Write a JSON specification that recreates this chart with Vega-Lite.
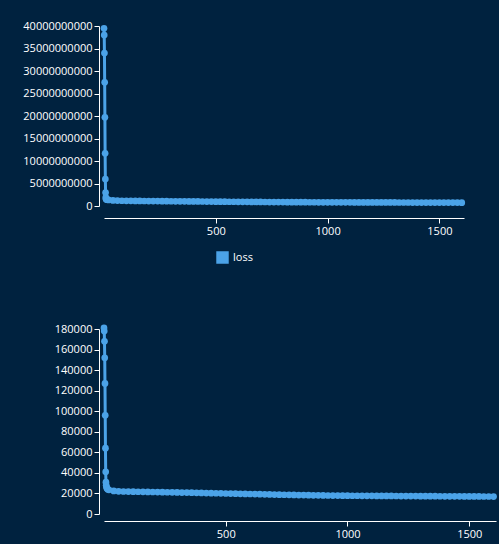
{
  "$schema": "https://vega.github.io/schema/vega-lite/v6.json",
  "background": "#00223f",
  "padding": {"left": 22, "top": 20, "right": 20, "bottom": 5},
  "datasets": {
    "history": [
      {"epoch": 0, "loss": 39500000000, "mae": 181000},
      {"epoch": 1, "loss": 38000000000, "mae": 178000},
      {"epoch": 2, "loss": 34000000000, "mae": 168000},
      {"epoch": 3, "loss": 27500000000, "mae": 152000},
      {"epoch": 4, "loss": 19700000000, "mae": 127000},
      {"epoch": 5, "loss": 11700000000, "mae": 96000},
      {"epoch": 6, "loss": 6000000000, "mae": 64000},
      {"epoch": 7, "loss": 3000000000, "mae": 41000},
      {"epoch": 8, "loss": 1900000000, "mae": 31000},
      {"epoch": 9, "loss": 1600000000, "mae": 28000},
      {"epoch": 10, "loss": 1500000000, "mae": 26500},
      {"epoch": 12, "loss": 1450000000, "mae": 25000},
      {"epoch": 15, "loss": 1400000000, "mae": 24000},
      {"epoch": 20, "loss": 1350000000, "mae": 23500},
      {"epoch": 40, "loss": 1250000000, "mae": 22500},
      {"epoch": 60, "loss": 1200000000, "mae": 22100},
      {"epoch": 80, "loss": 1170000000, "mae": 21900},
      {"epoch": 100, "loss": 1150000000, "mae": 21800},
      {"epoch": 120, "loss": 1140000000, "mae": 21700},
      {"epoch": 140, "loss": 1130000000, "mae": 21650},
      {"epoch": 160, "loss": 1120000000, "mae": 21550},
      {"epoch": 180, "loss": 1115000000, "mae": 21500},
      {"epoch": 200, "loss": 1105000000, "mae": 21400},
      {"epoch": 220, "loss": 1095000000, "mae": 21300},
      {"epoch": 240, "loss": 1090000000, "mae": 21250},
      {"epoch": 260, "loss": 1080000000, "mae": 21150},
      {"epoch": 280, "loss": 1070000000, "mae": 21050},
      {"epoch": 300, "loss": 1060000000, "mae": 20950},
      {"epoch": 320, "loss": 1050000000, "mae": 20850},
      {"epoch": 340, "loss": 1045000000, "mae": 20800},
      {"epoch": 360, "loss": 1035000000, "mae": 20700},
      {"epoch": 380, "loss": 1025000000, "mae": 20600},
      {"epoch": 400, "loss": 1015000000, "mae": 20500},
      {"epoch": 420, "loss": 1005000000, "mae": 20400},
      {"epoch": 440, "loss": 1000000000, "mae": 20300},
      {"epoch": 460, "loss": 990000000, "mae": 20200},
      {"epoch": 480, "loss": 980000000, "mae": 20100},
      {"epoch": 500, "loss": 970000000, "mae": 19950},
      {"epoch": 520, "loss": 962000000, "mae": 19850},
      {"epoch": 540, "loss": 955000000, "mae": 19750},
      {"epoch": 560, "loss": 948000000, "mae": 19650},
      {"epoch": 580, "loss": 940000000, "mae": 19550},
      {"epoch": 600, "loss": 932000000, "mae": 19450},
      {"epoch": 620, "loss": 925000000, "mae": 19350},
      {"epoch": 640, "loss": 918000000, "mae": 19250},
      {"epoch": 660, "loss": 910000000, "mae": 19150},
      {"epoch": 680, "loss": 903000000, "mae": 19050},
      {"epoch": 700, "loss": 896000000, "mae": 18950},
      {"epoch": 720, "loss": 890000000, "mae": 18850},
      {"epoch": 740, "loss": 884000000, "mae": 18750},
      {"epoch": 760, "loss": 878000000, "mae": 18650},
      {"epoch": 780, "loss": 872000000, "mae": 18550},
      {"epoch": 800, "loss": 866000000, "mae": 18450},
      {"epoch": 820, "loss": 860000000, "mae": 18380},
      {"epoch": 840, "loss": 855000000, "mae": 18300},
      {"epoch": 860, "loss": 850000000, "mae": 18220},
      {"epoch": 880, "loss": 845000000, "mae": 18150},
      {"epoch": 900, "loss": 840000000, "mae": 18080},
      {"epoch": 920, "loss": 835000000, "mae": 18000},
      {"epoch": 940, "loss": 830000000, "mae": 17950},
      {"epoch": 960, "loss": 826000000, "mae": 17900},
      {"epoch": 980, "loss": 822000000, "mae": 17850},
      {"epoch": 1000, "loss": 818000000, "mae": 17800},
      {"epoch": 1020, "loss": 815000000, "mae": 17770},
      {"epoch": 1040, "loss": 813000000, "mae": 17740},
      {"epoch": 1060, "loss": 811000000, "mae": 17710},
      {"epoch": 1080, "loss": 808000000, "mae": 17690},
      {"epoch": 1100, "loss": 806000000, "mae": 17660},
      {"epoch": 1120, "loss": 804000000, "mae": 17630},
      {"epoch": 1140, "loss": 801000000, "mae": 17600},
      {"epoch": 1160, "loss": 799000000, "mae": 17580},
      {"epoch": 1180, "loss": 797000000, "mae": 17550},
      {"epoch": 1200, "loss": 794000000, "mae": 17520},
      {"epoch": 1220, "loss": 792000000, "mae": 17490},
      {"epoch": 1240, "loss": 790000000, "mae": 17460},
      {"epoch": 1260, "loss": 787000000, "mae": 17440},
      {"epoch": 1280, "loss": 785000000, "mae": 17410},
      {"epoch": 1300, "loss": 783000000, "mae": 17380},
      {"epoch": 1320, "loss": 780000000, "mae": 17350},
      {"epoch": 1340, "loss": 778000000, "mae": 17330},
      {"epoch": 1360, "loss": 776000000, "mae": 17300},
      {"epoch": 1380, "loss": 773000000, "mae": 17270},
      {"epoch": 1400, "loss": 771000000, "mae": 17240},
      {"epoch": 1420, "loss": 769000000, "mae": 17220},
      {"epoch": 1440, "loss": 766000000, "mae": 17190},
      {"epoch": 1460, "loss": 764000000, "mae": 17160},
      {"epoch": 1480, "loss": 762000000, "mae": 17130},
      {"epoch": 1500, "loss": 759000000, "mae": 17110},
      {"epoch": 1520, "loss": 757000000, "mae": 17080},
      {"epoch": 1540, "loss": 755000000, "mae": 17050},
      {"epoch": 1560, "loss": 753000000, "mae": 17030},
      {"epoch": 1580, "loss": 751000000, "mae": 17010},
      {"epoch": 1600, "loss": 750000000, "mae": 17000}
    ]
  },
  "vconcat": [
    {
      "width": 360,
      "height": 180,
      "data": {"name": "history"},
      "mark": {"type": "line", "point": {"size": 45, "filled": true, "opacity": 1}, "strokeWidth": 3},
      "encoding": {
        "x": {"field": "epoch", "type": "quantitative", "title": null, "scale": {"domain": [0, 1610], "nice": false},
          "axis": {"values": [500, 1000, 1500], "format": "d", "offset": 12}},
        "y": {"field": "loss", "type": "quantitative", "title": null, "scale": {"domain": [0, 40000000000]},
          "axis": {"tickCount": 9, "format": "d", "offset": 5}},
        "color": {"datum": "loss", "scale": {"range": ["#4ba3e8"]}, "legend": {"title": null, "orient": "none", "legendX": 112, "legendY": 225, "symbolType": "square", "symbolSize": 120}}
      }
    },
    {
      "width": 392,
      "height": 185,
      "data": {"name": "history"},
      "mark": {"type": "line", "point": {"size": 45, "filled": true, "opacity": 1}, "strokeWidth": 3},
      "encoding": {
        "x": {"field": "epoch", "type": "quantitative", "title": null, "scale": {"domain": [0, 1610], "nice": false},
          "axis": {"values": [500, 1000, 1500], "format": "d", "offset": 7}},
        "y": {"field": "mae", "type": "quantitative", "title": null, "scale": {"domain": [0, 180000]},
          "axis": {"tickCount": 9, "format": "d", "offset": 5}},
        "color": {"datum": "mae", "scale": {"range": ["#4ba3e8"]}, "legend": {"title": null, "orient": "none", "legendX": 140, "legendY": 222, "symbolType": "square", "symbolSize": 120}}
      }
    }
  ],
  "resolve": {"scale": {"color": "independent"}, "legend": {"color": "independent"}},
  "spacing": 55,
  "config": {
    "font": "Segoe UI, Open Sans, sans-serif",
    "view": {"stroke": null},
    "axis": {"grid": false, "domainColor": "#ffffff", "tickColor": "#ffffff", "labelColor": "#ffffff", "labelFontSize": 11},
    "legend": {"labelColor": "#ffffff", "labelFontSize": 11}
  }
}
